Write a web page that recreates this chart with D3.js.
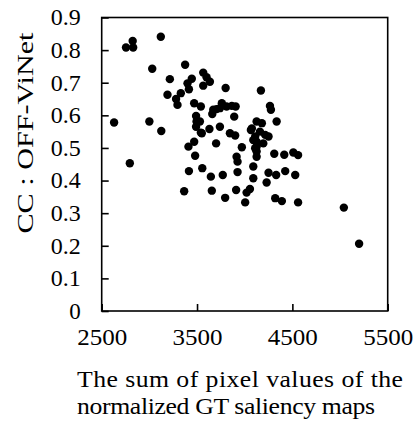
<!DOCTYPE html>
<html><head><meta charset="utf-8">
<script src="https://cdn.jsdelivr.net/npm/d3@7"></script>
<style>body{margin:0;background:#fff}svg{display:block}text{font-family:"Liberation Serif","Times New Roman",serif;fill:#000}</style>
</head><body><svg id="c" width="419" height="422"></svg>
<script>
const xVals = [2630,2755,2825,2830,3120,3030,2795,3000,3125,3375,3215,3190,3280,3295,3330,3400,3445,3415,3565,3600,
3635,3565,3800,3470,3540,3490,3495,3490,3540,3630,3740,3660,3705,3760,3810,3865,3905,3890,3700,3410,
3470,3480,3845,3900,3970,3915,3925,4065,4090,4125,4170,3415,3555,3645,3770,3925,4090,4090,3365,3655,
3795,3910,4005,4020,4055,4310,4415,4510,4560,4250,4330,4425,4530,4230,4320,4390,4560,5040,5200,4265,
4275,4335,4180,4125,4075,4215,4195,4125,4125,3670,3740,3530,3550,4110,4160,4250,4110,4125];
const yVals = [0.578,0.808,0.828,0.808,0.841,0.743,0.453,0.581,0.552,0.755,0.711,0.663,0.650,0.632,0.668,0.698,0.712,0.680,0.731,0.717,
0.703,0.691,0.684,0.637,0.627,0.598,0.581,0.565,0.547,0.558,0.565,0.604,0.619,0.637,0.627,0.629,0.627,0.596,0.514,0.504,
0.519,0.476,0.545,0.538,0.502,0.473,0.458,0.555,0.524,0.489,0.676,0.429,0.438,0.412,0.417,0.426,0.443,0.407,0.367,0.369,
0.347,0.371,0.333,0.363,0.374,0.482,0.479,0.486,0.478,0.424,0.417,0.429,0.417,0.394,0.346,0.337,0.333,0.317,0.206,0.629,
0.617,0.581,0.576,0.581,0.560,0.540,0.514,0.504,0.473,0.617,0.622,0.581,0.545,0.535,0.550,0.535,0.499,0.519];
const xTicks = [2500,3500,4500,5500];
const yTicks = [0,0.1,0.2,0.3,0.4,0.5,0.6,0.7,0.8,0.9];
const xTitle = ["The sum of pixel values of the","normalized GT saliency maps"];
const yTitle = "CC : OFF-ViNet";

const svg = d3.select("#c");
const L=101.7,R=387.7,T=17.5,B=311;
const x = d3.scaleLinear().domain([2500,5500]).range([L,R]);
const y = d3.scaleLinear().domain([0,0.9]).range([B,T]);

svg.append("rect").attr("x",L).attr("y",T).attr("width",R-L).attr("height",B-T)
  .attr("fill","none").attr("stroke","#000").attr("stroke-width",1.6);

const gx = svg.append("g").attr("transform",`translate(0,${B})`)
  .call(d3.axisBottom(x).tickValues(xTicks).tickSizeInner(-7).tickSizeOuter(0).tickPadding(17).tickFormat(d3.format("d")));
gx.select(".domain").remove();
gx.selectAll("line").attr("stroke","#000").attr("stroke-width",1.6);
gx.selectAll("text").style("font-size","24px").attr("textLength",50).attr("lengthAdjust","spacingAndGlyphs");

const gy = svg.append("g").attr("transform",`translate(${L},0)`)
  .call(d3.axisLeft(y).tickValues(yTicks).tickSizeInner(-7).tickSizeOuter(0).tickPadding(21).tickFormat(d=>d===0?"0":d3.format(".1f")(d)));
gy.select(".domain").remove();
gy.selectAll("line").attr("stroke","#000").attr("stroke-width",1.6);
gy.selectAll("text").style("font-size","23px").filter(d=>d!==0).attr("textLength",30).attr("lengthAdjust","spacingAndGlyphs");

svg.append("g").selectAll("circle").data(xVals.map((v,i)=>[v,yVals[i]])).join("circle")
  .attr("cx",d=>x(d[0])).attr("cy",d=>y(d[1])).attr("r",4.2).attr("fill","#000");

const tg = svg.append("g").attr("transform","translate(77,0) scale(1.12,1)");
tg.append("text").attr("x",0).attr("y",387).style("font-size","23px")
  .attr("textLength",326/1.12).attr("lengthAdjust","spacing").text(xTitle[0]);
tg.append("text").attr("x",0).attr("y",414).style("font-size","23px")
  .attr("textLength",298/1.12).attr("lengthAdjust","spacing").text(xTitle[1]);

svg.append("text").attr("transform","translate(33,133) rotate(-90)").attr("text-anchor","middle")
  .style("font-size","23px").attr("textLength",201).attr("lengthAdjust","spacingAndGlyphs").text(yTitle);
</script></body></html>
